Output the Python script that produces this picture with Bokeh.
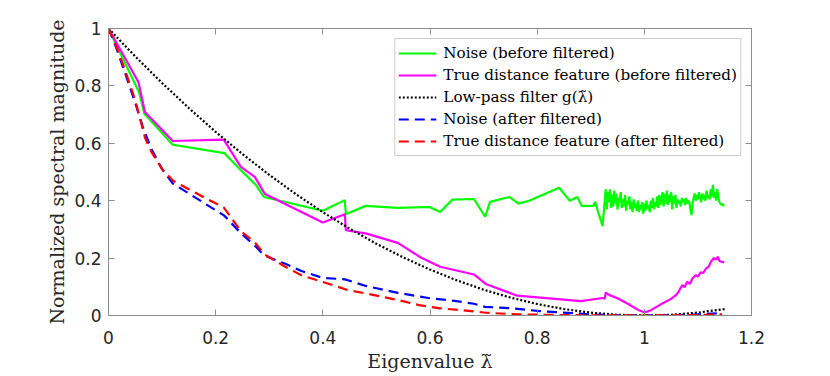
from bokeh.plotting import figure
from bokeh.models import Range1d, LinearAxis, Legend, LegendItem, FixedTicker
from bokeh.embed import file_html
from bokeh.resources import INLINE

# ---- data ----
x_ticks = [0, 0.2, 0.4, 0.6, 0.8, 1.0, 1.2]
x_tick_labels = {0: "0", 0.2: "0.2", 0.4: "0.4", 0.6: "0.6", 0.8: "0.8", 1.0: "1", 1.2: "1.2"}
y_ticks = [0, 0.2, 0.4, 0.6, 0.8, 1.0]
y_tick_labels = {0: "0", 0.2: "0.2", 0.4: "0.4", 0.6: "0.6", 0.8: "0.8", 1.0: "1"}

noise_before_x = [0, 0.057, 0.067, 0.12, 0.216, 0.247, 0.275, 0.29, 0.40, 0.441, 0.443, 0.48,
                  0.54, 0.599, 0.619, 0.642, 0.682, 0.703, 0.712, 0.748, 0.765, 0.785, 0.841,
                  0.861, 0.875, 0.883, 0.905, 0.908, 0.922,
                  0.928, 0.930, 0.932, 0.934, 0.936, 0.938, 0.940, 0.942, 0.944, 0.946,
                  0.948, 0.950, 0.952, 0.954, 0.956, 0.958, 0.960, 0.962, 0.964, 0.966,
                  0.968, 0.970, 0.972, 0.974, 0.976, 0.978, 0.980, 0.982, 0.984, 0.986,
                  0.988, 0.990, 0.992, 0.994, 0.996, 0.998, 1.000, 1.002, 1.004, 1.006,
                  1.008, 1.010, 1.012, 1.014, 1.016, 1.018, 1.020, 1.022, 1.024, 1.026,
                  1.028, 1.030, 1.032, 1.034, 1.036, 1.038, 1.040, 1.042, 1.044, 1.046,
                  1.048, 1.050, 1.052, 1.054, 1.056, 1.058, 1.060, 1.062, 1.064, 1.066,
                  1.068, 1.070, 1.072, 1.074, 1.076, 1.078, 1.080, 1.082, 1.084, 1.086,
                  1.088, 1.090, 1.092, 1.094, 1.096, 1.098, 1.100, 1.102, 1.104, 1.106,
                  1.108, 1.110, 1.112, 1.114, 1.116, 1.118, 1.120, 1.122, 1.124, 1.126,
                  1.128, 1.130, 1.132, 1.134, 1.136, 1.138, 1.140, 1.142, 1.144, 1.146,
                  1.148]
noise_before_y = [1.0, 0.778, 0.703, 0.595, 0.566, 0.506, 0.455, 0.413, 0.365, 0.402, 0.353, 0.382,
                  0.375, 0.378, 0.361, 0.404, 0.406, 0.344, 0.396, 0.413, 0.39, 0.40, 0.445,
                  0.40, 0.413, 0.382, 0.382, 0.396, 0.311,
                  0.44, 0.37, 0.43, 0.395, 0.44, 0.375, 0.42, 0.38, 0.435, 0.39,
                  0.425, 0.37, 0.41, 0.395, 0.43, 0.375, 0.405, 0.38, 0.42, 0.365,
                  0.40, 0.385, 0.415, 0.37, 0.395, 0.36, 0.405, 0.375, 0.39, 0.365,
                  0.40, 0.36, 0.385, 0.37, 0.395, 0.355, 0.39, 0.365, 0.40, 0.37,
                  0.385, 0.36, 0.40, 0.375, 0.41, 0.37, 0.395, 0.38, 0.415, 0.375,
                  0.42, 0.385, 0.40, 0.43, 0.38, 0.425, 0.39, 0.435, 0.385, 0.42,
                  0.395, 0.43, 0.37, 0.415, 0.39, 0.42, 0.375, 0.405, 0.39, 0.40,
                  0.38, 0.41, 0.395, 0.405, 0.385, 0.41, 0.39, 0.40, 0.395, 0.37,
                  0.35, 0.39, 0.41, 0.425, 0.40, 0.42, 0.405, 0.43, 0.41, 0.395,
                  0.425, 0.405, 0.42, 0.40, 0.435, 0.41, 0.42, 0.405, 0.44, 0.415,
                  0.455, 0.41, 0.43, 0.40, 0.44, 0.415, 0.395, 0.39, 0.385, 0.39,
                  0.38]

true_before_x = [0, 0.056, 0.068, 0.12, 0.215, 0.247, 0.273, 0.292, 0.40, 0.441, 0.443, 0.48,
                 0.54, 0.583, 0.619, 0.682, 0.704, 0.763, 0.882, 0.922, 0.926, 0.928, 0.935,
                 0.95, 0.97, 0.99, 1.0, 1.01, 1.03, 1.05, 1.059, 1.063, 1.066, 1.071, 1.075,
                 1.08, 1.085, 1.09, 1.096, 1.1, 1.105, 1.11, 1.115, 1.12, 1.125, 1.13, 1.134,
                 1.137, 1.14, 1.145, 1.149]
true_before_y = [1.0, 0.813, 0.709, 0.608, 0.613, 0.518, 0.483, 0.423, 0.324, 0.353, 0.297, 0.286,
                 0.253, 0.202, 0.17, 0.143, 0.11, 0.069, 0.05, 0.061, 0.058, 0.08, 0.071,
                 0.06, 0.04, 0.018, 0.011, 0.016, 0.038, 0.058, 0.071, 0.08, 0.09, 0.106, 0.098,
                 0.118, 0.11, 0.13, 0.141, 0.135, 0.15, 0.148, 0.164, 0.17, 0.19, 0.2, 0.195,
                 0.205, 0.19, 0.187, 0.185]

filter_x = [0, 0.05, 0.1, 0.15, 0.2, 0.25, 0.3, 0.35, 0.4, 0.45, 0.5, 0.55, 0.6, 0.65,
            0.7, 0.75, 0.8, 0.85, 0.9, 0.95, 1.0, 1.05, 1.1, 1.15]
filter_y = [1.0, 0.9025, 0.81, 0.7225, 0.64, 0.5625, 0.49, 0.4225, 0.36, 0.3025, 0.25, 0.2025,
            0.16, 0.1225, 0.09, 0.0625, 0.04, 0.0225, 0.01, 0.0025, 0.0, 0.0025, 0.01, 0.0225]

noise_after_x = [0, 0.014, 0.03, 0.05, 0.064, 0.08, 0.1, 0.12, 0.15, 0.18, 0.216, 0.247, 0.275,
                 0.29, 0.33, 0.36, 0.40, 0.441, 0.48, 0.54, 0.6, 0.642, 0.682, 0.703, 0.748,
                 0.8, 0.841, 0.9, 0.95, 1.0, 1.05, 1.1, 1.145]
noise_after_y = [1.0, 0.935, 0.85, 0.74, 0.657, 0.58, 0.51, 0.46, 0.425, 0.39, 0.348, 0.287, 0.24,
                 0.21, 0.18, 0.155, 0.131, 0.126, 0.103, 0.079, 0.06, 0.052, 0.041, 0.030, 0.026,
                 0.016, 0.011, 0.004, 0.001, 0.0, 0.001, 0.004, 0.008]

true_after_x = [0, 0.014, 0.03, 0.05, 0.068, 0.08, 0.1, 0.12, 0.15, 0.18, 0.215, 0.247, 0.273,
                0.292, 0.33, 0.36, 0.40, 0.446, 0.48, 0.54, 0.583, 0.619, 0.682, 0.704,
                0.763, 0.882, 0.93, 1.0, 1.1, 1.145]
true_after_y = [1.0, 0.94, 0.86, 0.75, 0.62, 0.57, 0.51, 0.47, 0.44, 0.41, 0.377, 0.294, 0.255,
                0.212, 0.17, 0.14, 0.117, 0.089, 0.077, 0.054, 0.035, 0.025, 0.0145, 0.0096,
                0.0039, 0.0007, 0.0004, 0.0, 0.0014, 0.0041]

legend_labels = ["Noise (before filtered)", "True distance feature (before filtered)",
                 "Low-pass filter g(\u03bb\u0303)", "Noise (after filtered)",
                 "True distance feature (after filtered)"]

# ---- figure ----
AX = "#8c8c8c"
TICKC = "#262626"
SERIF = "DejaVu Serif"

p = figure(width=822, height=374, output_backend="svg", toolbar_location=None,
           x_range=Range1d(0, 1.2), y_range=Range1d(0, 1),
           min_border_left=108, min_border_right=71, min_border_top=28, min_border_bottom=58)
p.background_fill_color = "white"
p.border_fill_color = "white"
p.outline_line_color = AX
p.xgrid.visible = False
p.ygrid.visible = False

r_nb = p.line(noise_before_x, noise_before_y, line_color="#00ff00", line_width=2.2)
r_tb = p.line(true_before_x, true_before_y, line_color="#ff00ff", line_width=2.2)
r_f = p.line(filter_x, filter_y, line_color="black", line_width=2.2, line_dash="2 2")
r_na = p.line(noise_after_x, noise_after_y, line_color="#0000ff", line_width=2.2, line_dash="10 6")
r_ta = p.line(true_after_x, true_after_y, line_color="#ff0000", line_width=2.2, line_dash="10 6")


def style_axis(ax, show_labels=True):
    ax.axis_line_color = AX
    ax.major_tick_line_color = AX
    ax.major_tick_in = 6
    ax.major_tick_out = 0
    ax.minor_tick_line_color = None
    ax.major_label_text_font = "DejaVu Sans"
    if show_labels:
        ax.major_label_text_color = TICKC
        ax.major_label_text_font_size = "17px"
    else:
        ax.major_label_text_color = None
        ax.major_label_text_font_size = "8px"


p.xaxis.ticker = FixedTicker(ticks=x_ticks)
p.yaxis.ticker = FixedTicker(ticks=y_ticks)
p.xaxis.major_label_overrides = x_tick_labels
p.yaxis.major_label_overrides = y_tick_labels
style_axis(p.xaxis[0])
style_axis(p.yaxis[0])
p.xaxis.major_label_standoff = 15
p.yaxis.major_label_standoff = 7

p.xaxis.axis_label = "Eigenvalue \u03bb\u0303"
p.yaxis.axis_label = "Normalized spectral magnitude"
for ax in (p.xaxis[0], p.yaxis[0]):
    ax.axis_label_text_font = SERIF
    ax.axis_label_text_font_style = "normal"
    ax.axis_label_text_font_size = "19px"
    ax.axis_label_text_color = "#262626"
p.xaxis.axis_label_standoff = 3
p.yaxis.axis_label_standoff = 3

top = LinearAxis(ticker=FixedTicker(ticks=x_ticks))
style_axis(top, show_labels=False)
top.major_label_standoff = 0
p.add_layout(top, "above")
right = LinearAxis(ticker=FixedTicker(ticks=y_ticks))
style_axis(right, show_labels=False)
right.major_label_standoff = 0
p.add_layout(right, "right")

legend = Legend(items=[LegendItem(label=legend_labels[0], renderers=[r_nb]),
                       LegendItem(label=legend_labels[1], renderers=[r_tb]),
                       LegendItem(label=legend_labels[2], renderers=[r_f]),
                       LegendItem(label=legend_labels[3], renderers=[r_na]),
                       LegendItem(label=legend_labels[4], renderers=[r_ta])],
                location="top_right", label_text_font=SERIF, label_text_font_size="15.2px",
                label_text_font_style="normal")
legend.margin = 10
legend.padding = 3
legend.spacing = 0
legend.label_height = 22
legend.glyph_height = 22
legend.glyph_width = 38
legend.label_standoff = 7
legend.label_text_color = "black"
legend.border_line_color = "#999999"
legend.border_line_width = 1
legend.background_fill_color = "white"
legend.background_fill_alpha = 1
p.add_layout(legend, "center")

open("out.html", "w").write(file_html(p, INLINE))
